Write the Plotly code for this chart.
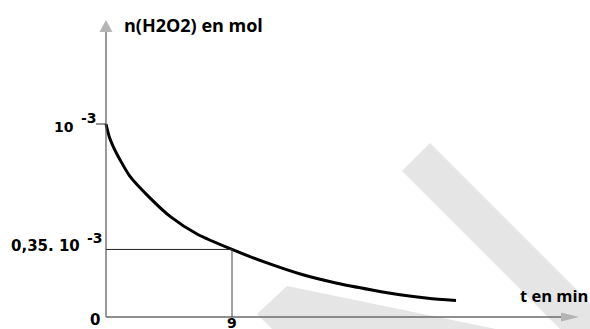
import plotly.graph_objects as go

# Amount of H2O2 (in units of 1e-3 mol) against time (min)
t_min = [0, 0.25, 0.6, 1.0, 1.7, 3.1, 4.6, 6.5, 9, 11.5, 14, 16.5, 19, 21, 23, 25]
n_mmol = [1.0, 0.93, 0.87, 0.815, 0.73, 0.62, 0.52, 0.43, 0.35, 0.28, 0.22, 0.175, 0.14, 0.115, 0.097, 0.085]

# Highlighted reading on the curve
marked_t = 9
marked_n = 0.35

# Tick labels
x_tick_vals = [0, 9]
x_tick_text = ["0", "9"]
y_tick_vals = [1.0, 0.35]
y_tick_text = ["10", "0,35. 10"]
y_tick_exp = ["-3", "-3"]

x_title = "t en min"
y_title = "n(H2O2) en mol"

W, H = 590, 329
ORIGIN_X, ORIGIN_Y = 106, 317      # pixel position of (0, 0)
PX_PER_MIN, PX_PER_UNIT = 14, 193

x_range = [-ORIGIN_X / PX_PER_MIN, (W - ORIGIN_X) / PX_PER_MIN]
y_range = [-(H - ORIGIN_Y) / PX_PER_UNIT, ORIGIN_Y / PX_PER_UNIT]


def px(x):
    return x / W


def py(y):
    return 1 - y / H


def poly(points):
    return "M " + " L ".join(f"{px(x):.5f},{py(y):.5f}" for x, y in points) + " Z"


fig = go.Figure()

fig.add_trace(go.Scatter(
    x=t_min, y=n_mmol, mode="lines",
    line=dict(color="black", width=3, shape="spline", smoothing=0.7),
    hoverinfo="skip", showlegend=False,
))

shapes = []
# light grey background watermark
wm = "#e5e5e5"
shapes.append(dict(type="path", xref="paper", yref="paper", layer="below",
                   path=poly([(430, 143), (590, 303), (590, 329), (560, 329), (402, 171)]),
                   fillcolor=wm, line=dict(width=0)))
shapes.append(dict(type="path", xref="paper", yref="paper", layer="below",
                   path=poly([(287, 286), (496, 329), (272, 329), (257, 314)]),
                   fillcolor=wm, line=dict(width=0)))

axis_col = "#555555"
# vertical axis
shapes.append(dict(type="line", xref="x", yref="paper", x0=0, x1=0,
                   y0=py(ORIGIN_Y), y1=py(31), line=dict(color=axis_col, width=1.2)))
# horizontal axis
shapes.append(dict(type="line", xref="paper", yref="y", x0=px(ORIGIN_X), x1=px(562),
                   y0=0, y1=0, line=dict(color="#6a6a6a", width=1.6)))
# arrow heads
arrow_col = "#b4b4b4"
shapes.append(dict(type="path", xref="paper", yref="paper",
                   path=poly([(106, 20), (112.5, 32), (99.5, 32)]),
                   fillcolor=arrow_col, line=dict(width=0)))
shapes.append(dict(type="path", xref="paper", yref="paper",
                   path=poly([(579, 317), (561, 312.5), (561, 321.5)]),
                   fillcolor=arrow_col, line=dict(width=0)))

# tick mark at the initial amount
shapes.append(dict(type="line", xref="x", yref="y", xsizemode="pixel", xanchor=0,
                   x0=-10, x1=0, y0=y_tick_vals[0], y1=y_tick_vals[0],
                   line=dict(color="#333333", width=1)))

# guide lines to the highlighted reading
shapes.append(dict(type="line", xref="x", yref="y", x0=0, x1=marked_t,
                   y0=marked_n, y1=marked_n, line=dict(color="#222222", width=1)))
shapes.append(dict(type="line", xref="x", yref="y", x0=marked_t, x1=marked_t,
                   y0=0, y1=marked_n, line=dict(color="#444444", width=1)))

tick_font = dict(family="DejaVu Sans", size=15, color="black")
annotations = []

# x tick labels
x_label_style = {0: (-11.5, -3, 15), 9: (0, -6, 14)}
for v, txt in zip(x_tick_vals, x_tick_text):
    dx, dy, fs = x_label_style[v]
    annotations.append(dict(x=v, y=0, xref="x", yref="y", text=f"<b>{txt}</b>",
                            showarrow=False, xanchor="center", yanchor="middle",
                            xshift=dx, yshift=dy, font=dict(tick_font, size=fs)))

# y tick labels with their exponents
y_label_shift = {1.0: ((-42.5, -3, 14), (-17.5, 6)), 0.35: ((-61, 3, 15), (-11.5, 11.5))}
for v, txt, exp in zip(y_tick_vals, y_tick_text, y_tick_exp):
    (dx, dy, fs), (ex, ey) = y_label_shift[v]
    annotations.append(dict(x=0, y=v, xref="x", yref="y", text=f"<b>{txt}</b>",
                            showarrow=False, xanchor="center", yanchor="middle",
                            xshift=dx, yshift=dy, font=dict(tick_font, size=fs)))
    annotations.append(dict(x=0, y=v, xref="x", yref="y", text=f"<b>{exp}</b>",
                            showarrow=False, xanchor="center", yanchor="middle",
                            xshift=ex, yshift=ey, font=dict(tick_font, size=14)))

title_font = dict(family="Open Sans", size=18, color="black")
annotations.append(dict(x=px(122), y=py(25), xref="paper", yref="paper",
                        text=f"<b>{y_title}</b>", showarrow=False,
                        xanchor="left", yanchor="middle", font=title_font))
annotations.append(dict(x=px(518), y=py(295), xref="paper", yref="paper",
                        text=f"<b>{x_title}</b>", showarrow=False,
                        xanchor="left", yanchor="middle",
                        font=dict(title_font, size=16.5)))

fig.update_layout(
    width=W, height=H,
    margin=dict(l=0, r=0, t=0, b=0),
    paper_bgcolor="white", plot_bgcolor="rgba(0,0,0,0)",
    xaxis=dict(range=x_range, visible=False, fixedrange=True),
    yaxis=dict(range=y_range, visible=False, fixedrange=True),
    shapes=shapes, annotations=annotations,
    showlegend=False,
)

fig.write_html("out.html", config=dict(displayModeBar=False))
